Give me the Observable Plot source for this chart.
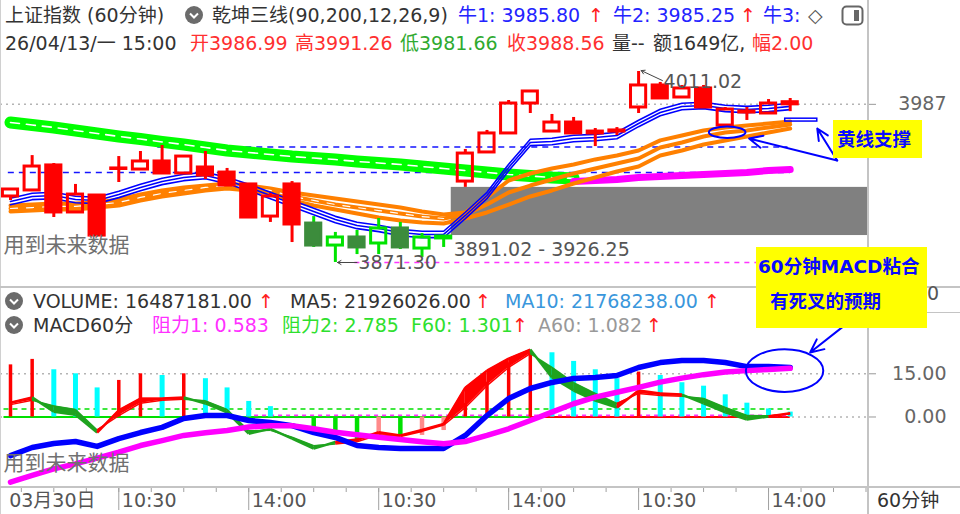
<!DOCTYPE html>
<html><head><meta charset="utf-8">
<script src="https://cdn.jsdelivr.net/npm/d3@7"></script>
<script src="https://cdn.jsdelivr.net/npm/@observablehq/plot@0.6"></script>
<style>
html,body{margin:0;padding:0;background:#fff;}
#wrap{position:relative;width:960px;height:514px;overflow:hidden;background:#fff;font-family:"DejaVu Sans","Noto Sans CJK SC",sans-serif;}
.t{position:absolute;white-space:nowrap;font-size:19px;line-height:19px;}
.ln{position:absolute;background:#c4c4c4;}
.pl{position:absolute;left:0;}
.yb{position:absolute;background:#ffff00;color:#0a0aff;font-weight:bold;}
.yb span{position:absolute;white-space:nowrap;font-size:18.5px;line-height:19px;}
</style></head><body><div id="wrap"></div>
<script>
// ---------------- price panel data (60-minute bars, 03/30 15:00 .. 04/13 15:00) ----------------
const open  = [3919.6,3924.0,3942.3,3907.9,3920.3,3939.7,3939.3,3945.2,3936.4,3940.8,3937.1,3928.4,3904.9,3928.4,3899.8,3883.7,3889.6,3885.2,3896.2,3881.5,3888.9,3930.5,3951.8,3965.7,3987.6,3967.1,3973.7,3967.1,3967.1,3984.7,4000.8,3992.0,3998.6,3971.5,3981.0,3980.3,3986.99];
const high  = [3925.2,3949.5,3943.7,3928.4,3920.8,3948.8,3952.5,3956.9,3949.5,3952.5,3940.1,3928.8,3921.8,3930.5,3904.9,3893.3,3894.7,3903.5,3900.6,3892.5,3891.02,3954.0,3967.9,3989.8,3997.1,3979.6,3977.4,3969.3,3970.0,4011.02,4003.0,4000.8,4000.8,3984.7,3984.7,3990.5,3991.26];
const low   = [3916.6,3923.3,3904.2,3907.2,3890.6,3929.8,3938.9,3935.7,3936.0,3932.0,3927.0,3903.8,3900.6,3885.9,3882.3,3871.30,3877.1,3877.1,3880.8,3875.0,3882.3,3926.25,3951.3,3965.3,3980.3,3966.7,3965.3,3956.1,3964.2,3980.3,3990.9,3991.3,3984.3,3971.1,3975.2,3979.9,3981.66];
const close = [3924.7,3941.5,3907.9,3921.0,3891.0,3940.1,3945.2,3936.4,3948.8,3934.9,3927.6,3904.2,3919.6,3899.1,3883.7,3889.6,3882.3,3896.2,3882.3,3889.6,3890.3,3951.0,3965.7,3987.6,3996.4,3973.7,3965.7,3965.7,3967.9,4000.8,3991.3,3998.6,3984.7,3983.2,3981.8,3987.6,3988.56];
// trend regime per bar (R = red regime, G = green regime)
const regime = "RRRRRRRRRRRRRRGGGGGGGRRRRRRRRRRRRRRRR";
// 乾坤三线: blue "牛" lines (centre), orange lines, long line (green falling part, magenta rising part)
const bullLine = [3915.9,3919.6,3920.3,3917.4,3916.7,3921.1,3926.2,3930.6,3933.5,3934.9,3931.3,3926.2,3920.3,3914.5,3908.6,3902.7,3898.4,3896.2,3893.2,3891.8,3891.8,3905.7,3920.3,3940.8,3959.1,3959.8,3962.0,3962.7,3964.2,3973.0,3981.0,3985.4,3986.2,3984.0,3983.2,3984.0,3985.5];
const orange1 = [3913.0,3913.7,3914.5,3914.5,3915.2,3917.4,3921.1,3924.0,3926.2,3927.6,3929.1,3927.6,3925.4,3922.5,3920.3,3918.1,3915.9,3913.7,3911.5,3908.6,3906.4,3907.9,3918.9,3931.3,3936.4,3940.1,3943.0,3946.7,3949.6,3953.2,3960.6,3964.2,3967.9,3970.1,3971.5,3973.0,3974.5];
const orange2 = [3910.8,3911.5,3912.3,3912.3,3913.7,3915.2,3918.9,3921.8,3924.0,3926.2,3927.6,3926.2,3924.0,3919.6,3916.7,3913.7,3911.5,3909.3,3907.1,3904.9,3903.5,3906.4,3913.7,3922.5,3927.6,3932.0,3936.4,3940.1,3943.7,3947.4,3955.4,3959.1,3963.5,3966.4,3967.9,3970.1,3972.3];
const orange3 = [3908.6,3909.3,3910.1,3910.1,3911.5,3913.0,3916.7,3919.6,3921.8,3924.0,3925.4,3924.0,3921.8,3916.7,3913.0,3910.1,3907.1,3904.2,3902.0,3900.6,3899.8,3903.5,3907.9,3913.7,3919.6,3924.0,3929.1,3933.5,3937.9,3941.5,3949.6,3953.2,3957.6,3960.6,3963.5,3966.4,3969.3];
const longGreen = [3973.7,3971.9,3970.1,3967.9,3965.7,3963.5,3961.6,3959.5,3957.6,3955.4,3953.2,3951.8,3950.3,3948.8,3947.7,3946.6,3945.2,3944.1,3943.0,3941.5,3940.1,3938.6,3937.2,3935.7,3934.6,3933.5,3932.8];
const longMagentaStart = 26;
const longMagenta = [3930.6,3931.3,3932.0,3933.5,3934.2,3934.9,3935.7,3936.4,3937.2,3938.6,3939.3];
const supportUpper = 3955.8, supportLower = 3937.1;
const gapLow = 3891.02, gapHigh = 3926.25, gapBar = 20;
const lowBar = 15, lowValue = 3871.30, highBar = 29, highValue = 4011.02;
const priceTick = [3987];

// ---------------- MACD panel data ----------------
const hist = [18.1,20.0,16.4,15.0,10.1,12.7,15.0,14.4,15.0,13.3,10.1,5.4,3.6,0,-4.7,-6.4,-8.5,-6.4,-6.4,-6.4,-4.7,4.7,12.1,18.8,23.1,22.3,19.3,16.4,13.3,15.6,14.4,11.9,10.7,7.7,4.8,2.8,1.7];
const histState = "RRCCCRRCRCCCCCGGGSGSSRRRRCCCCRCCCCCCC";
const dif = [-13.4,-10.6,-9.2,-8.5,-10.2,-7.5,-5.4,-3.6,-0.5,0.5,0.5,-1.2,-1.9,-3.0,-5.4,-7.1,-9.9,-10.6,-10.9,-10.9,-10.9,-6.4,0.5,6.4,9.9,12.0,13.4,13.7,14.4,17.2,18.9,19.6,19.6,18.9,17.5,17.5,17.2];
const dea = [-22.6,-20.3,-18.0,-16.3,-14.3,-12.2,-9.9,-8.2,-6.4,-5.5,-4.7,-3.5,-3.0,-3.0,-4.1,-5.3,-6.2,-7.0,-7.8,-8.6,-9.3,-8.5,-6.4,-4.1,-1.2,1.7,4.6,6.9,8.6,10.3,12.1,13.5,14.7,15.6,16.1,16.5,16.9];
const f60 = [5.0,6.8,1.8,0.8,-5.4,2.3,6.4,6.4,6.8,4.7,1.6,-5.8,-4.1,-7.5,-11.0,-8.7,-7.8,-5.3,-6.4,-4.5,-2.4,10.2,16.1,20.3,23.4,13.7,9.2,5.7,3.3,9.2,8.2,7.8,4.7,1.6,-0.9,0.2,1.301];
const a60 = [4.3,5.8,3.8,2.6,-4.5,0.5,4.8,5.8,6.2,5.6,2.6,-4.8,-4.6,-7.0,-10.0,-9.4,-8.6,-6.2,-6.8,-5.0,-2.8,3.3,10.9,17.2,22.0,17.2,11.9,8.2,4.7,8.2,7.5,7.2,6.4,3.3,0.5,0.4,1.082];
const bandState = "RGGGRRRRGGGGGGGRRRRRRRRRGGGGRRRGGGGR";
const resist1 = 0.583, resist2 = 2.785;
const macdTicks = [15, 0];

// ---------------- time axis ----------------
const axisLabels = [{bar:-0.2,label:"03月30日"},{bar:5,label:"10:30"},{bar:11,label:"14:00"},{bar:17,label:"10:30"},{bar:23,label:"14:00"},{bar:29,label:"10:30"},{bar:35,label:"14:00"}];

// ---------------- header / legend texts ----------------
const header1 = [
  {x:5,   t:"上证指数 (60分钟)", c:"#333"},
  {x:212, t:"乾坤三线(90,200,12,26,9)", c:"#333"},
  {x:458, t:"牛1: 3985.80", c:"#2323ff"},
  {x:588, t:"↑", c:"#ff2020"},
  {x:613, t:"牛2: 3985.25", c:"#2323ff"},
  {x:740, t:"↑", c:"#ff2020"},
  {x:763, t:"牛3:", c:"#2323ff"},
  {x:808, t:"◇", c:"#555"}
];
const header2 = [
  {x:5,   t:"26/04/13/一 15:00", c:"#333"},
  {x:190, t:"开3986.99", c:"#ff3030"},
  {x:295, t:"高3991.26", c:"#ff3030"},
  {x:400, t:"低3981.66", c:"#2faa2f"},
  {x:507, t:"收3988.56", c:"#ff3030"},
  {x:612, t:"量--", c:"#333"},
  {x:653, t:"额1649亿,", c:"#333"},
  {x:752, t:"幅2.00", c:"#ff3030"}
];
const legend1 = [
  {x:33,  t:"VOLUME: 16487181.00", c:"#333"},
  {x:258, t:"↑", c:"#ff2020"},
  {x:290, t:"MA5: 21926026.00", c:"#333"},
  {x:475, t:"↑", c:"#ff2020"},
  {x:505, t:"MA10: 21768238.00", c:"#3a97dc"},
  {x:704, t:"↑", c:"#ff2020"}
];
const legend2 = [
  {x:33,  t:"MACD60分", c:"#333"},
  {x:152, t:"阻力1: 0.583", c:"#ff30ff"},
  {x:282, t:"阻力2: 2.785", c:"#2ee02e"},
  {x:411, t:"F60: 1.301", c:"#2ee02e"},
  {x:512, t:"↑", c:"#ff2020"},
  {x:538, t:"A60: 1.082", c:"#999"},
  {x:646, t:"↑", c:"#ff2020"}
];

// ================= drawing =================
const FONT = '"DejaVu Sans","Noto Sans CJK SC",sans-serif';
const wrap = document.getElementById("wrap");
const N = open.length;
const idx = d3.range(N);
const XDOM = [-0.4615, 39.615];
const X = {type:"linear", domain: XDOM, range:[0, 868], axis:null};
const rows = (arr, start = 0) => arr.map((v, k) => ({i: k + start, v}));
const svgStyle = `font-family:${FONT};overflow:visible;background:transparent;`;

function place(node, top) {
  const d = document.createElement("div");
  d.className = "pl"; d.style.top = top + "px";
  d.appendChild(node); wrap.appendChild(d);
}
function ellipse(k) {
  return {draw(ctx, size) {
    const rx = Math.sqrt(size / Math.PI), ry = rx * k, c = 0.5523;
    ctx.moveTo(rx, 0);
    ctx.bezierCurveTo(rx, c*ry, c*rx, ry, 0, ry);
    ctx.bezierCurveTo(-c*rx, ry, -rx, c*ry, -rx, 0);
    ctx.bezierCurveTo(-rx, -c*ry, -c*rx, -ry, 0, -ry);
    ctx.bezierCurveTo(c*rx, -ry, rx, -c*ry, rx, 0);
    ctx.closePath();
  }};
}

// ---- price panel ----
const bars = idx.map(i => ({i, o: open[i], h: high[i], l: low[i], c: close[i], up: close[i] >= open[i], g: regime[i] === "G"}));
const bodyColor = d => !d.g ? "#ff0000" : (d.up ? "#00e400" : "#3c8c3c");
const wickColor = d => d.g ? "#00e400" : "#ff0000";
const HW = 0.35;

const price = Plot.plot({
  width: 960, height: 236, marginTop: 0, marginBottom: 0, marginLeft: 0, marginRight: 92,
  x: X,
  y: {domain: [3853.74, 4026.38], range: [236, 0], axis: null},
  color: {type: "identity"},
  style: svgStyle,
  marks: [
    Plot.ruleY(priceTick, {stroke: "#b4b4b4", strokeDasharray: "2,4", strokeWidth: 1.5}),
    Plot.ruleY(priceTick, {x1: () => XDOM[1], x2: () => XDOM[1] + 0.37, stroke: "#999"}),
    Plot.text(priceTick, {y: d => d, text: d => String(d), frameAnchor: "right", dx: 78, textAnchor: "end", fontSize: 19, fill: "#666"}),
    // gap box
    Plot.rect([{b: gapBar, lo: gapLow, hi: gapHigh}], {x1: d => d.b + HW, x2: () => XDOM[1], y1: "lo", y2: "hi", fill: "#808080"}),
    // dashed support lines
    Plot.ruleY([supportUpper], {x1: () => 6.8, x2: () => 35.9, stroke: "#1515ff", strokeDasharray: "6,5", strokeWidth: 1.6}),
    Plot.ruleY([supportLower], {x1: () => -0.1, x2: () => 36.0, stroke: "#1515ff", strokeDasharray: "6,5", strokeWidth: 1.6}),
    Plot.ruleY([lowValue], {x1: () => 15.9, x2: () => XDOM[1], stroke: "#ff33ff", strokeDasharray: "5,5", strokeWidth: 1.6}),
    // long line
    Plot.line(rows(longGreen), {x: "i", y: "v", stroke: "#00ff00", strokeWidth: 12}),
    Plot.line(rows(longGreen), {x: "i", y: "v", stroke: "#fff", strokeWidth: 1.6, strokeDasharray: "9,7"}),
    Plot.line(rows(longMagenta, longMagentaStart), {x: "i", y: "v", stroke: "#ff00ff", strokeWidth: 7}),
    // orange lines
    ...[orange3, orange2, orange1].map(a => Plot.line(rows(a), {x: "i", y: "v", stroke: "#ff8000", strokeWidth: 4})),
    Plot.line(rows(orange2).slice(0, 21), {x: "i", y: "v", stroke: "#fff", strokeWidth: 1.2, strokeDasharray: "7,9"}),
    // blue triple lines
    ...[-3.2, 0, 3.2].map(o => Plot.line(rows(bullLine), {x: "i", y: "v", stroke: "#0000ff", strokeWidth: 1.6, dy: o})),
    // candles
    Plot.ruleX(bars, {x: "i", y1: d => Math.max(d.o, d.c), y2: "h", stroke: wickColor, strokeWidth: 3}),
    Plot.ruleX(bars, {x: "i", y1: "l", y2: d => Math.min(d.o, d.c), stroke: wickColor, strokeWidth: 3}),
    Plot.rect(bars.filter(d => !d.up), {x1: d => d.i - HW, x2: d => d.i + HW, y1: "o", y2: "c", fill: bodyColor, stroke: bodyColor, strokeWidth: 3}),
    Plot.rect(bars.filter(d => d.up), {x1: d => d.i - HW, x2: d => d.i + HW, y1: "o", y2: "c", fill: "none", stroke: bodyColor, strokeWidth: 3}),
    // high / low / gap labels
    Plot.arrow([{}], {x1: () => 30.1, y1: () => 4004.4, x2: () => 29.12, y2: () => 4011.7, stroke: "#444", strokeWidth: 1, headLength: 6}),
    Plot.text([highValue], {x: () => highBar, y: d => d, text: d => d.toFixed(2), dx: 25, dy: 10, textAnchor: "start", fontSize: 19, fill: "#555"}),
    Plot.arrow([{}], {x1: () => lowBar + 1.0, y1: () => lowValue, x2: () => lowBar + 0.1, y2: () => lowValue, stroke: "#444", strokeWidth: 1, headLength: 6}),
    Plot.text([lowValue], {x: () => lowBar, y: d => d, text: d => d.toFixed(2), dx: 23, textAnchor: "start", fontSize: 19, fill: "#555"}),
    Plot.text([{lo: gapLow, hi: gapHigh}], {x: () => gapBar, y: "lo", text: d => `${d.lo.toFixed(2)} - ${d.hi.toFixed(2)}`, dx: 10, dy: 14, textAnchor: "start", fontSize: 19, fill: "#555"}),
    // annotations
    Plot.dot([{x: 33.09, y: 3966.6}], {x: "x", y: "y", r: 18.3, symbol: ellipse(0.31), fill: "none", stroke: "#0000ff", strokeWidth: 2}),
    Plot.rect([{}], {x1: () => 35.77, x2: () => 37.25, y1: () => 3974.4, y2: () => 3976.5, fill: "none", stroke: "#0000ff", strokeWidth: 1.5}),
    Plot.arrow([{x1: 38.17, y1: 3945.9, x2: 34.1, y2: 3962.0}, {x1: 38.17, y1: 3945.9, x2: 37.25, y2: 3969.3}],
      {x1: "x1", y1: "y1", x2: "x2", y2: "y2", stroke: "#0000ff", strokeWidth: 2, headLength: 11, headAngle: 50}),
    Plot.text(["用到未来数据"], {frameAnchor: "bottom-left", dx: 3, dy: -35, textAnchor: "start", fontSize: 21, fill: "#707070"})
  ]
});
place(price, 50);

// ---- MACD panel ----
const macdRows = idx.map(i => ({i, dif: dif[i], dea: dea[i], h: hist[i], s: histState[i]}));
const histColor = {R: "#ff0000", C: "#00ffff", G: "#00e000", S: "#ff8a8a"};
const histWidth = {R: 3.5, C: 5, G: 4.5, S: 4.5};
const bandColor = k => bandState[k] === "R" ? "#ff0000" : "#1fa31f";
const segs = d3.range(N - 1);
const segPts = segs.flatMap(k => [k, k + 1].map(j => ({seg: k, x: j, f: f60[j], a: a60[j], c: bandColor(k)})));

const macd = Plot.plot({
  width: 960, height: 201, marginTop: 0, marginBottom: 0, marginLeft: 0, marginRight: 92,
  x: X,
  y: {domain: [-24.48, 45.31], range: [201, 0], axis: null},
  color: {type: "identity"},
  style: svgStyle,
  marks: [
    Plot.ruleY(macdTicks, {stroke: "#b4b4b4", strokeDasharray: "2,4", strokeWidth: 1.5}),
    Plot.ruleY(macdTicks, {x1: () => XDOM[1], x2: () => XDOM[1] + 0.37, stroke: "#999"}),
    Plot.text(macdTicks, {y: d => d, text: d => d.toFixed(2), frameAnchor: "right", dx: 78, textAnchor: "end", fontSize: 19, fill: "#666"}),
    Plot.ruleY([resist2], {x1: () => -0.3, x2: () => 36, stroke: "#00e000", strokeDasharray: "5,4", strokeWidth: 1.6}),
    Plot.ruleY([0], {x1: () => -0.3, x2: () => 24, stroke: "#00e000", strokeWidth: 2}),
    Plot.ruleY([0], {x1: () => 24, x2: () => 36, stroke: "#ff0000", strokeWidth: 2}),
    Plot.ruleY([resist1], {x1: () => 10.9, x2: () => 36, stroke: "#ff33ff", strokeDasharray: "4,4", strokeWidth: 1.8}),
    ...Object.keys(histColor).map(s => Plot.ruleX(macdRows.filter(d => d.s === s && d.h !== 0), {x: "i", y1: 0, y2: "h", stroke: histColor[s], strokeWidth: histWidth[s]})),
    Plot.areaY(segPts, {x: "x", y1: "f", y2: "a", z: "seg", fill: "c"}),
    Plot.link(segs, {x1: k => k, x2: k => k + 1, y1: k => f60[k], y2: k => f60[k + 1], stroke: bandColor, strokeWidth: 2.5}),
    Plot.link(segs, {x1: k => k, x2: k => k + 1, y1: k => a60[k], y2: k => a60[k + 1], stroke: bandColor, strokeWidth: 1.5}),
    Plot.line(macdRows, {x: "i", y: "dif", stroke: "#0000ff", strokeWidth: 5.5}),
    Plot.line(macdRows, {x: "i", y: "dea", stroke: "#ff00ff", strokeWidth: 5.5}),
    Plot.dot([{x: 35.74, y: 16.1}], {x: "x", y: "y", r: 38.7, symbol: ellipse(0.55), fill: "none", stroke: "#0000ff", strokeWidth: 2}),
    Plot.arrow([{x1: 38.63, y1: 32.5, x2: 36.92, y2: 22.4}], {x1: "x1", y1: "y1", x2: "x2", y2: "y2", stroke: "#0000ff", strokeWidth: 2, headLength: 11, headAngle: 50}),
    Plot.text(["用到未来数据"], {frameAnchor: "bottom-left", dx: 3, dy: -18, textAnchor: "start", fontSize: 21, fill: "#707070"})
  ]
});
place(macd, 286);

// ---- time axis ----
const tickPos = d3.range(27).map(k => 0.5 + 1.5 * k);
const axis = Plot.plot({
  width: 960, height: 27, marginTop: 0, marginBottom: 0, marginLeft: 0, marginRight: 92,
  x: X,
  y: {domain: [0, 27], range: [0, 27], axis: null},
  style: svgStyle,
  marks: [
    Plot.ruleX(tickPos, {x: d => d, y1: 0, y2: 5, stroke: "#a0a0a0"}),
    Plot.ruleX(axisLabels.filter(d => d.bar > 0), {x: "bar", y1: 0, y2: 23, stroke: "#a0a0a0"}),
    Plot.text(axisLabels, {x: "bar", y: () => 13, text: "label", textAnchor: "start", dx: 3, fontSize: 19, fill: "#555"})
  ]
});
place(axis, 487);

// ---- frame lines ----
function line(l, t, w, h, c) { const d = document.createElement("div"); d.className = "ln"; Object.assign(d.style, {left: l + "px", top: t + "px", width: w + "px", height: h + "px"}); if (c) d.style.background = c; wrap.appendChild(d); }
line(0, 0, 1, 514, "#d0d0d0");
line(867, 0, 2, 514);
line(0, 286, 960, 2);
line(0, 486, 960, 2);
line(868, 312, 92, 1);

// ---- texts ----
function text(x, cy, t, c, extra) {
  const s = document.createElement("div"); s.className = "t"; s.textContent = t;
  s.style.left = x + "px"; s.style.top = (cy - 9) + "px"; s.style.color = c;
  if (extra) Object.assign(s.style, extra);
  wrap.appendChild(s);
}
header1.forEach(d => text(d.x, 15, d.t, d.c));
header2.forEach(d => text(d.x, 43, d.t, d.c));
legend1.forEach(d => text(d.x, 301, d.t, d.c));
legend2.forEach(d => text(d.x, 325, d.t, d.c));
text(927, 293, "0", "#555");
text(877, 500, "60分钟", "#333");

// icons
function icon(x, y, html) { const d = document.createElement("div"); d.style.position = "absolute"; d.style.left = x + "px"; d.style.top = y + "px"; d.innerHTML = html; wrap.appendChild(d); }
const chev = '<svg width="18" height="18"><circle cx="9" cy="9" r="9" fill="#6b6b6b"/><path d="M5 7.5 L9 11.5 L13 7.5" stroke="#fff" stroke-width="2" fill="none"/></svg>';
icon(185, 6, chev); icon(5, 292, chev); icon(5, 316, chev);
icon(841, 5, '<svg width="24" height="21"><rect x="1.5" y="1.5" width="20" height="18" rx="4" fill="none" stroke="#666" stroke-width="2"/><rect x="13" y="5" width="5" height="11" fill="#666"/></svg>');

// yellow call-outs
function ybox(l, t, w, h, lines) {
  const d = document.createElement("div"); d.className = "yb";
  Object.assign(d.style, {left: l + "px", top: t + "px", width: w + "px", height: h + "px"});
  lines.forEach(([x, cy, s]) => { const sp = document.createElement("span"); sp.textContent = s; sp.style.left = (x - l) + "px"; sp.style.top = (cy - t - 9) + "px"; d.appendChild(sp); });
  wrap.appendChild(d);
}
ybox(833, 120, 89, 38, [[837, 139, "黄线支撑"]]);
ybox(756, 247, 171, 81, [[758, 266, "60分钟MACD粘合"], [770, 301, "有死叉的预期"]]);
</script></body></html>
